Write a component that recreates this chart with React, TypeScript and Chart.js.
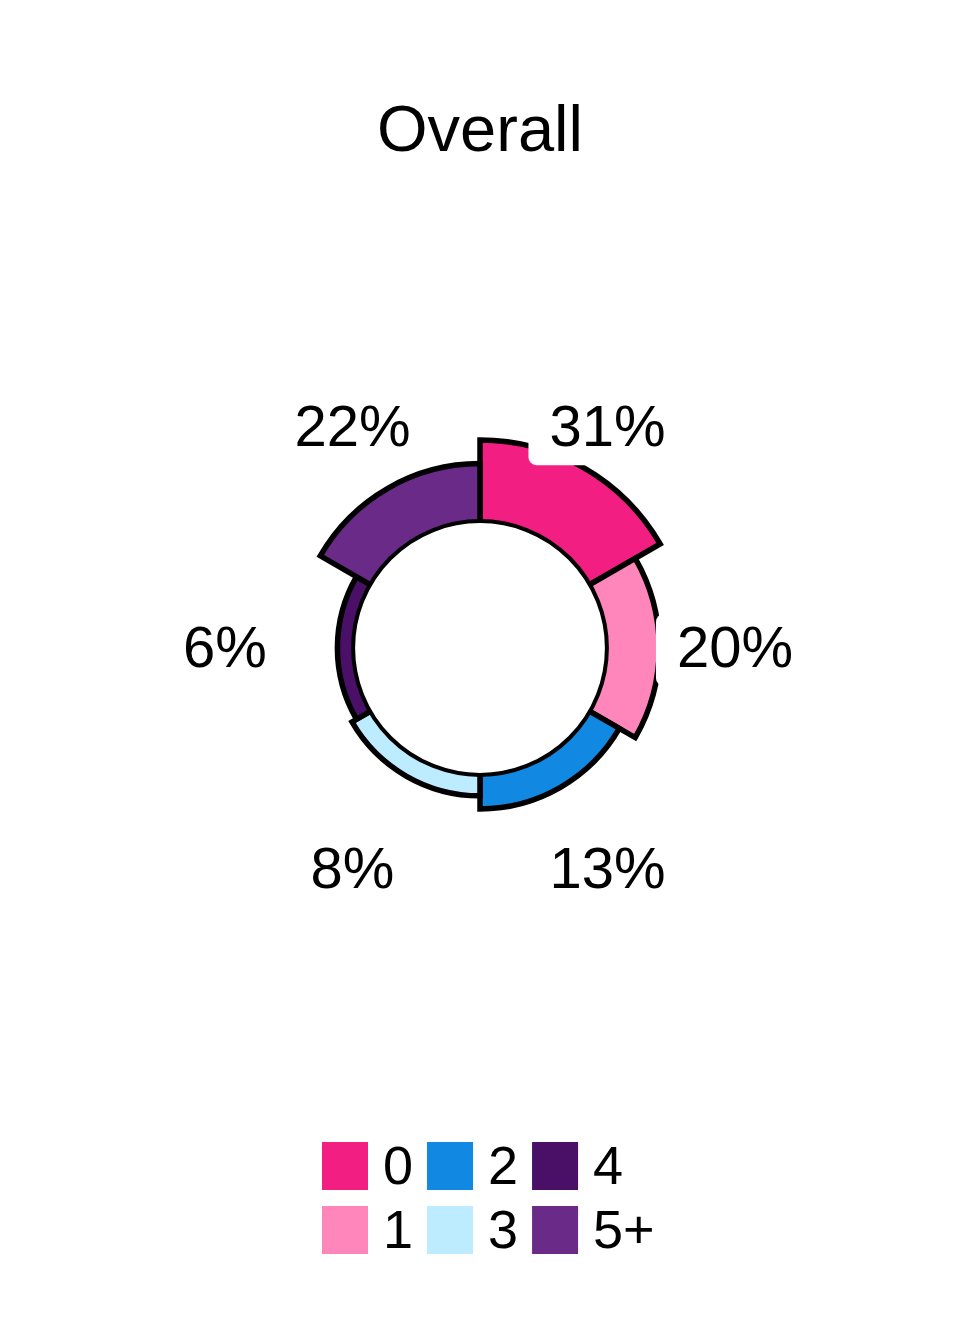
import { useEffect, useRef } from "react";
import { Chart, registerables } from "chart.js";

Chart.register(...registerables);

// Share of respondents by count category
const categories = ["0", "1", "2", "3", "4", "5+"];
const shares = [31, 20, 13, 8, 6, 22];
const colors = ["#F31E82", "#FF86BB", "#1188E1", "#BDEBFF", "#4A1068", "#6A2A88"];
const chartTitle = "Overall";

const FONT = '"Liberation Sans", Arial, Helvetica, sans-serif';
// Radial scale minimum: a share of 0 sits on the edge of the centre hole
const RADIAL_MIN = -48.5;

// White centre hole plus percentage labels on white rounded boxes
const ringDecor = {
  id: "ringDecor",
  afterDatasetsDraw(chart: any) {
    const { ctx } = chart;
    const scale = chart.scales.r;
    const cx = scale.xCenter;
    const cy = scale.yCenter;
    const holeR = scale.getDistanceFromCenterForValue(0);

    ctx.save();
    ctx.beginPath();
    ctx.arc(cx, cy, holeR, 0, Math.PI * 2);
    ctx.fillStyle = "#ffffff";
    ctx.fill();
    ctx.lineWidth = 4;
    ctx.strokeStyle = "#000000";
    ctx.stroke();

    const meta = chart.getDatasetMeta(0);
    const labelR = scale.drawingArea + 47;
    ctx.font = `58px ${FONT}`;
    ctx.textAlign = "center";
    ctx.textBaseline = "middle";
    meta.data.forEach((arc: any, i: number) => {
      const { startAngle, endAngle } = arc.getProps(["startAngle", "endAngle"], true);
      const mid = (startAngle + endAngle) / 2;
      const x = cx + Math.cos(mid) * labelR;
      const y = cy + Math.sin(mid) * labelR;
      const text = `${shares[i]}%`;
      const w = ctx.measureText(text).width + 42;
      const h = 72;
      ctx.beginPath();
      ctx.roundRect(x - w / 2, y - h / 2 + 2, w, h, 8);
      ctx.fillStyle = "#ffffff";
      ctx.fill();
      ctx.fillStyle = "#000000";
      ctx.fillText(text, x, y + 3);
    });
    ctx.restore();
  },
};

// Legend laid out in columns of two rows
const columnLegend = {
  id: "columnLegend",
  afterDraw(chart: any) {
    const { ctx } = chart;
    const rows = 2;
    const left = 322;
    const top = 1142;
    const boxW = 46;
    const boxH = 48;
    const rowStep = 64;
    const textGap = 15;
    const colGap = 14;
    ctx.save();
    ctx.font = `54px ${FONT}`;
    ctx.textAlign = "left";
    ctx.textBaseline = "middle";
    let x = left;
    for (let c = 0; c * rows < categories.length; c++) {
      let maxText = 0;
      for (let r = 0; r < rows; r++) {
        const i = c * rows + r;
        if (i >= categories.length) break;
        const y = top + r * rowStep;
        ctx.fillStyle = colors[i];
        ctx.fillRect(x, y, boxW, boxH);
        ctx.fillStyle = "#000000";
        ctx.fillText(categories[i], x + boxW + textGap, y + boxH / 2 + 3);
        maxText = Math.max(maxText, ctx.measureText(categories[i]).width);
      }
      x += boxW + textGap + maxText + colGap;
    }
    ctx.restore();
  },
};

export default function App() {
  const canvasRef = useRef<HTMLCanvasElement | null>(null);

  useEffect(() => {
    if (!canvasRef.current) return;
    const chart = new Chart(canvasRef.current, {
      type: "polarArea",
      data: {
        labels: categories,
        datasets: [
          {
            data: shares,
            backgroundColor: colors,
            borderColor: "#000000",
            borderWidth: 5.5,
            borderJoinStyle: "miter",
            clip: false,
          } as any,
        ],
      },
      options: {
        responsive: true,
        maintainAspectRatio: false,
        animation: false,
        events: [],
        layout: { padding: { top: 0, bottom: 488, left: 0, right: 0 } },
        plugins: {
          legend: { display: false },
          tooltip: { enabled: false },
          title: {
            display: true,
            text: chartTitle,
            color: "#000000",
            font: { family: FONT, size: 65, weight: "normal", lineHeight: 1.2 },
            padding: { top: 94, bottom: 268 },
          },
        },
        scales: {
          r: {
            min: RADIAL_MIN,
            max: Math.max(...shares),
            startAngle: 0,
            ticks: { display: false },
            grid: { display: false },
            angleLines: { display: false },
            pointLabels: { display: false },
          },
        },
      } as any,
      plugins: [ringDecor, columnLegend],
    });
    return () => chart.destroy();
  }, []);

  return (
    <div style={{ position: "absolute", left: 0, top: 0, width: 960, height: 1344 }}>
      <canvas ref={canvasRef} />
    </div>
  );
}
